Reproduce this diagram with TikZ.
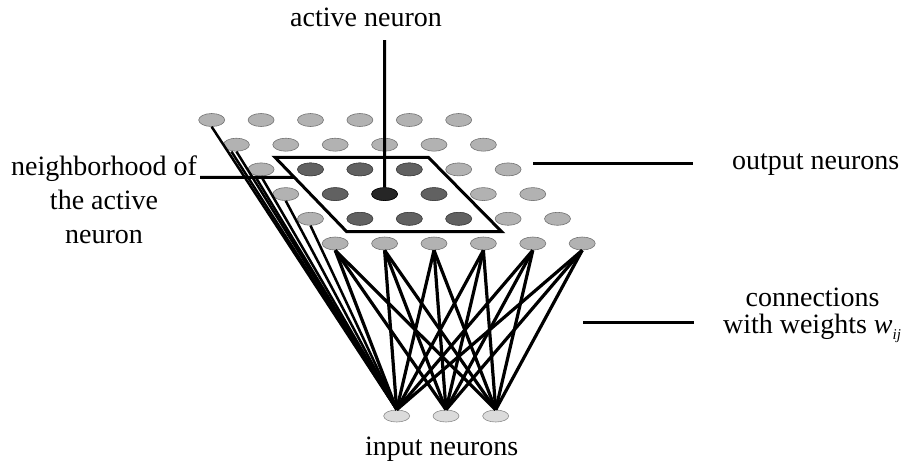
\documentclass[tikz,border=0pt]{standalone}
\usepackage{fontspec}
\setmainfont{Liberation Serif}
\usetikzlibrary{shapes.geometric,calc}

\tikzset{
  neuron/.style={ellipse, minimum width=26pt, minimum height=13pt, inner sep=0pt,
                 draw=black!55, line width=0.6pt, fill=black!30},
  nbneuron/.style={neuron, fill=black!62, draw=black!75},
  actneuron/.style={neuron, fill=black!85, draw=black},
  inneuron/.style={neuron, minimum height=12pt, fill=black!14, draw=black!45},
  label/.style={font=\fontsize{28}{32}\selectfont, inner sep=0pt, anchor=base},
  conn/.style={line width=3.2pt},
  feed/.style={line width=2.5pt},
  pointer/.style={line width=3pt},
  frame/.style={line width=3pt, line join=miter}
}

\begin{document}
\begin{tikzpicture}[x=1pt, y=-1pt]
  \useasboundingbox (0,0) rectangle (910,461);

  % output layer: 6 x 6 grid seen in perspective
  \foreach \r in {0,...,5} {
    \foreach \c in {0,...,5} {
      \node[neuron] (o\r\c) at ({211.7+49.4*\c+24.7*\r},{120+24.7*\r}) {};
    }
  }
  % neighbourhood of the winning neuron
  \foreach \r/\c in {2/1,2/2,2/3,3/1,3/3,4/1,4/2,4/3} {
    \node[nbneuron] at (o\r\c) {};
  }
  \node[actneuron] (act) at (o32) {};

  % input layer
  \node[inneuron] (i0) at (396.7,416) {};
  \node[inneuron] (i1) at (446,416) {};
  \node[inneuron] (i2) at (495.7,416) {};

  % weighted connections from the front row to every input
  \foreach \c in {0,...,5} {
    \foreach \k in {0,1,2} {
      \draw[conn] (o5\c.south) -- (i\k.north);
    }
  }
  % connections from the left edge of the grid
  \draw[feed] (o00.south) -- (i0.north);
  \draw[feed] ([xshift=-5pt]o10.south) -- (i0.north);
  \draw[feed] (o10.south) -- (i0.north);
  \draw[feed] ([xshift=-6pt]o20.south) -- (i0.north);
  \draw[feed] (o20.south) -- (i0.north);
  \draw[feed] (o30.south) -- (i0.north);
  \draw[feed] (o40.south) -- (i0.north);

  % neighbourhood frame
  \coordinate (pTL) at (275,157.3);
  \coordinate (pTR) at (428.3,157.3);
  \coordinate (pBR) at (501.7,231.7);
  \coordinate (pBL) at (346.7,231.7);
  \draw[frame] (pTL) -- (pTR) -- (pBR) -- (pBL) -- cycle;

  % labels
  \node[label] (lact) at (366,26) {active neuron};
  \node[label] (lout) at (815.7,169) {output neurons};
  \node[label] (lnb1) at (104,175) {neighborhood of};
  \node[label] (lnb2) at (104,209) {the active};
  \node[label] (lnb3) at (104,243) {neuron};
  \node[label] (lcon1) at (812.5,306) {connections};
  \node[label] (lcon2) at (812,333.3) {with weights {\itshape w\raisebox{-0.45ex}{\fontsize{15}{15}\selectfont ij}}};
  \node[label] (lin) at (441.6,455) {input neurons};

  % label pointers
  \coordinate (actTop) at (384.5,40);
  \draw[pointer] (actTop) -- (act.north);
  \coordinate (outA) at (533,163.3);
  \coordinate (outB) at (693,163.3);
  \draw[pointer] (outA) -- (outB);
  \coordinate (nbA) at (200,177.3);
  \coordinate (nbB) at ($(pTL)!0.27!(pBL)$);
  \draw[pointer] (nbA) -- (nbB);
  \coordinate (conA) at (583,322.3);
  \coordinate (conB) at (694,322.3);
  \draw[pointer] (conA) -- (conB);
\end{tikzpicture}
\end{document}
